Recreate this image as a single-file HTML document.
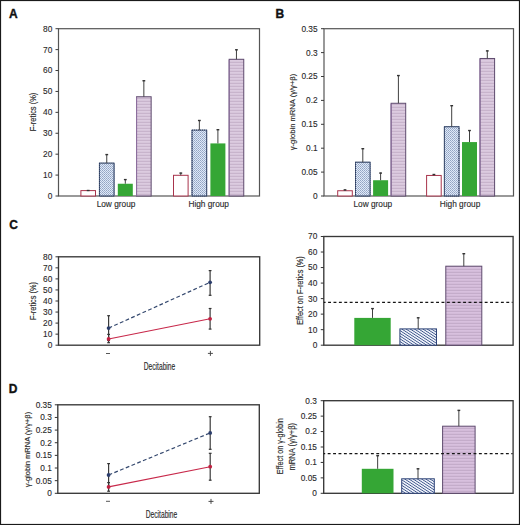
<!DOCTYPE html><html><head><meta charset="utf-8"><style>html,body{margin:0;padding:0;background:#fff;}svg{display:block;}</style></head><body>
<svg width="520" height="525" viewBox="0 0 520 525" font-family='"Liberation Sans", sans-serif'>
<defs>
<pattern id="hb" width="2" height="2" patternUnits="userSpaceOnUse">
<rect width="2" height="2" fill="#dfe9f8"/><rect width="1" height="1" fill="#93a4c2"/><rect x="1" y="1" width="1" height="1" fill="#a4b4d0"/></pattern>
<pattern id="hb2" width="2.3" height="2.3" patternUnits="userSpaceOnUse" patternTransform="rotate(-57)">
<rect width="2.3" height="2.3" fill="#f2f6fd"/><rect width="0.8" height="2.3" fill="#3a5288"/></pattern>
<pattern id="hp" width="4" height="3" patternUnits="userSpaceOnUse">
<rect width="4" height="3" fill="#dccbe0"/><rect y="1.8" width="4" height="1.1" fill="#c6b2ca"/></pattern>
<pattern id="hp2" width="4" height="3" patternUnits="userSpaceOnUse">
<rect width="4" height="3" fill="#d8c0de"/><rect y="1.8" width="4" height="1.1" fill="#c2aac8"/></pattern>
</defs>
<rect x="0" y="0" width="520" height="525" fill="#fff"/>
<text x="9" y="18" font-size="12" font-weight="bold" fill="#111" stroke="#111" stroke-width="0.35">A</text>
<text x="275.6" y="17.8" font-size="12" font-weight="bold" fill="#111" stroke="#111" stroke-width="0.35">B</text>
<text x="9.2" y="228.8" font-size="12" font-weight="bold" fill="#111" stroke="#111" stroke-width="0.35">C</text>
<text x="8.8" y="392.8" font-size="12" font-weight="bold" fill="#111" stroke="#111" stroke-width="0.35">D</text>
<rect x="58.5" y="28.7" width="201.0" height="167.3" fill="none" stroke="#555" stroke-width="1.2"/>
<line x1="55.5" y1="196.00" x2="58.5" y2="196.00" stroke="#3a3a3a" stroke-width="1"/>
<text x="52.3" y="198.90" font-size="8.3" text-anchor="end" fill="#2a2a2a" stroke="#2a2a2a" stroke-width="0.12">0</text>
<line x1="55.5" y1="175.09" x2="58.5" y2="175.09" stroke="#3a3a3a" stroke-width="1"/>
<text x="52.3" y="177.99" font-size="8.3" text-anchor="end" fill="#2a2a2a" stroke="#2a2a2a" stroke-width="0.12">10</text>
<line x1="55.5" y1="154.18" x2="58.5" y2="154.18" stroke="#3a3a3a" stroke-width="1"/>
<text x="52.3" y="157.08" font-size="8.3" text-anchor="end" fill="#2a2a2a" stroke="#2a2a2a" stroke-width="0.12">20</text>
<line x1="55.5" y1="133.26" x2="58.5" y2="133.26" stroke="#3a3a3a" stroke-width="1"/>
<text x="52.3" y="136.16" font-size="8.3" text-anchor="end" fill="#2a2a2a" stroke="#2a2a2a" stroke-width="0.12">30</text>
<line x1="55.5" y1="112.35" x2="58.5" y2="112.35" stroke="#3a3a3a" stroke-width="1"/>
<text x="52.3" y="115.25" font-size="8.3" text-anchor="end" fill="#2a2a2a" stroke="#2a2a2a" stroke-width="0.12">40</text>
<line x1="55.5" y1="91.44" x2="58.5" y2="91.44" stroke="#3a3a3a" stroke-width="1"/>
<text x="52.3" y="94.34" font-size="8.3" text-anchor="end" fill="#2a2a2a" stroke="#2a2a2a" stroke-width="0.12">50</text>
<line x1="55.5" y1="70.52" x2="58.5" y2="70.52" stroke="#3a3a3a" stroke-width="1"/>
<text x="52.3" y="73.42" font-size="8.3" text-anchor="end" fill="#2a2a2a" stroke="#2a2a2a" stroke-width="0.12">60</text>
<line x1="55.5" y1="49.61" x2="58.5" y2="49.61" stroke="#3a3a3a" stroke-width="1"/>
<text x="52.3" y="52.51" font-size="8.3" text-anchor="end" fill="#2a2a2a" stroke="#2a2a2a" stroke-width="0.12">70</text>
<line x1="55.5" y1="28.70" x2="58.5" y2="28.70" stroke="#3a3a3a" stroke-width="1"/>
<text x="52.3" y="31.60" font-size="8.3" text-anchor="end" fill="#2a2a2a" stroke="#2a2a2a" stroke-width="0.12">80</text>
<rect x="80.90" y="190.60" width="14.60" height="5.40" fill="#fff" stroke="#a8344c" stroke-width="1"/>
<line x1="88.20" y1="190.00" x2="88.20" y2="190.60" stroke="#404040" stroke-width="1"/>
<line x1="86.80" y1="190.50" x2="89.60" y2="190.50" stroke="#333" stroke-width="1.4"/>
<rect x="98.95" y="163.10" width="15.60" height="32.90" fill="url(#hb)"/>
<rect x="99.45" y="163.10" width="14.60" height="32.90" fill="none" stroke="#50607e" stroke-width="1"/>
<rect x="99.45" y="163.10" width="14.60" height="32.90" fill="none" stroke="#2a3a5e" stroke-width="1" stroke-dasharray="1,1"/>
<line x1="106.75" y1="154.09" x2="106.75" y2="163.10" stroke="#404040" stroke-width="1"/>
<line x1="105.35" y1="154.59" x2="108.15" y2="154.59" stroke="#333" stroke-width="1.4"/>
<rect x="117.80" y="183.75" width="15.00" height="12.25" fill="#35a635"/>
<line x1="125.30" y1="179.10" x2="125.30" y2="183.75" stroke="#404040" stroke-width="1"/>
<line x1="123.90" y1="179.60" x2="126.70" y2="179.60" stroke="#333" stroke-width="1.4"/>
<rect x="136.55" y="96.75" width="14.60" height="99.25" fill="url(#hp)" stroke="#5e4a6e" stroke-width="1"/>
<line x1="136.55" y1="97.25" x2="136.55" y2="196.00" stroke="#8e70a0" stroke-width="1"/>
<line x1="143.85" y1="80.25" x2="143.85" y2="96.75" stroke="#404040" stroke-width="1"/>
<line x1="142.45" y1="80.75" x2="145.25" y2="80.75" stroke="#333" stroke-width="1.4"/>
<rect x="173.50" y="175.30" width="14.60" height="20.70" fill="#fff" stroke="#a8344c" stroke-width="1"/>
<line x1="180.80" y1="172.60" x2="180.80" y2="175.30" stroke="#404040" stroke-width="1"/>
<line x1="179.40" y1="173.10" x2="182.20" y2="173.10" stroke="#333" stroke-width="1.4"/>
<rect x="191.55" y="130.10" width="15.60" height="65.90" fill="url(#hb)"/>
<rect x="192.05" y="130.10" width="14.60" height="65.90" fill="none" stroke="#50607e" stroke-width="1"/>
<rect x="192.05" y="130.10" width="14.60" height="65.90" fill="none" stroke="#2a3a5e" stroke-width="1" stroke-dasharray="1,1"/>
<line x1="199.35" y1="120.00" x2="199.35" y2="130.10" stroke="#404040" stroke-width="1"/>
<line x1="197.95" y1="120.50" x2="200.75" y2="120.50" stroke="#333" stroke-width="1.4"/>
<rect x="210.40" y="143.41" width="15.00" height="52.59" fill="#35a635"/>
<line x1="217.90" y1="129.21" x2="217.90" y2="143.41" stroke="#404040" stroke-width="1"/>
<line x1="216.50" y1="129.71" x2="219.30" y2="129.71" stroke="#333" stroke-width="1.4"/>
<rect x="229.15" y="59.29" width="14.60" height="136.71" fill="url(#hp)" stroke="#5e4a6e" stroke-width="1"/>
<line x1="229.15" y1="59.79" x2="229.15" y2="196.00" stroke="#8e70a0" stroke-width="1"/>
<line x1="236.45" y1="49.30" x2="236.45" y2="59.29" stroke="#404040" stroke-width="1"/>
<line x1="235.05" y1="49.80" x2="237.85" y2="49.80" stroke="#333" stroke-width="1.4"/>
<text x="116" y="207.1" font-size="8.3" text-anchor="middle" fill="#2a2a2a" stroke="#2a2a2a" stroke-width="0.12" font-weight="normal">Low group</text>
<text x="208.7" y="207.1" font-size="8.3" text-anchor="middle" fill="#2a2a2a" stroke="#2a2a2a" stroke-width="0.12" font-weight="normal">High group</text>
<text transform="translate(35.9,112.0) rotate(-90)" x="0" y="0" font-size="9.2" text-anchor="middle" textLength="38.6" lengthAdjust="spacingAndGlyphs" fill="#2a2a2a" stroke="#2a2a2a" stroke-width="0.15" font-weight="normal">F-retics (%)</text>
<rect x="324.0" y="28.7" width="189.5" height="167.3" fill="none" stroke="#555" stroke-width="1.2"/>
<line x1="321.0" y1="196.00" x2="324.0" y2="196.00" stroke="#3a3a3a" stroke-width="1"/>
<text x="317.6" y="198.90" font-size="8.3" text-anchor="end" fill="#2a2a2a" stroke="#2a2a2a" stroke-width="0.12">0</text>
<line x1="321.0" y1="172.10" x2="324.0" y2="172.10" stroke="#3a3a3a" stroke-width="1"/>
<text x="317.6" y="175.00" font-size="8.3" text-anchor="end" fill="#2a2a2a" stroke="#2a2a2a" stroke-width="0.12">0.05</text>
<line x1="321.0" y1="148.20" x2="324.0" y2="148.20" stroke="#3a3a3a" stroke-width="1"/>
<text x="317.6" y="151.10" font-size="8.3" text-anchor="end" fill="#2a2a2a" stroke="#2a2a2a" stroke-width="0.12">0.1</text>
<line x1="321.0" y1="124.30" x2="324.0" y2="124.30" stroke="#3a3a3a" stroke-width="1"/>
<text x="317.6" y="127.20" font-size="8.3" text-anchor="end" fill="#2a2a2a" stroke="#2a2a2a" stroke-width="0.12">0.15</text>
<line x1="321.0" y1="100.40" x2="324.0" y2="100.40" stroke="#3a3a3a" stroke-width="1"/>
<text x="317.6" y="103.30" font-size="8.3" text-anchor="end" fill="#2a2a2a" stroke="#2a2a2a" stroke-width="0.12">0.2</text>
<line x1="321.0" y1="76.50" x2="324.0" y2="76.50" stroke="#3a3a3a" stroke-width="1"/>
<text x="317.6" y="79.40" font-size="8.3" text-anchor="end" fill="#2a2a2a" stroke="#2a2a2a" stroke-width="0.12">0.25</text>
<line x1="321.0" y1="52.60" x2="324.0" y2="52.60" stroke="#3a3a3a" stroke-width="1"/>
<text x="317.6" y="55.50" font-size="8.3" text-anchor="end" fill="#2a2a2a" stroke="#2a2a2a" stroke-width="0.12">0.3</text>
<line x1="321.0" y1="28.70" x2="324.0" y2="28.70" stroke="#3a3a3a" stroke-width="1"/>
<text x="317.6" y="31.60" font-size="8.3" text-anchor="end" fill="#2a2a2a" stroke="#2a2a2a" stroke-width="0.12">0.35</text>
<rect x="337.70" y="190.74" width="14.60" height="5.26" fill="#fff" stroke="#a8344c" stroke-width="1"/>
<line x1="345.00" y1="189.40" x2="345.00" y2="190.74" stroke="#404040" stroke-width="1"/>
<line x1="343.60" y1="189.90" x2="346.40" y2="189.90" stroke="#333" stroke-width="1.4"/>
<rect x="355.00" y="162.21" width="15.60" height="33.79" fill="url(#hb)"/>
<rect x="355.50" y="162.21" width="14.60" height="33.79" fill="none" stroke="#50607e" stroke-width="1"/>
<rect x="355.50" y="162.21" width="14.60" height="33.79" fill="none" stroke="#2a3a5e" stroke-width="1" stroke-dasharray="1,1"/>
<line x1="362.80" y1="148.20" x2="362.80" y2="162.21" stroke="#404040" stroke-width="1"/>
<line x1="361.40" y1="148.70" x2="364.20" y2="148.70" stroke="#333" stroke-width="1.4"/>
<rect x="373.10" y="180.23" width="15.00" height="15.77" fill="#35a635"/>
<line x1="380.60" y1="172.58" x2="380.60" y2="180.23" stroke="#404040" stroke-width="1"/>
<line x1="379.20" y1="173.08" x2="382.00" y2="173.08" stroke="#333" stroke-width="1.4"/>
<rect x="391.10" y="103.27" width="14.60" height="92.73" fill="url(#hp)" stroke="#5e4a6e" stroke-width="1"/>
<line x1="391.10" y1="103.77" x2="391.10" y2="196.00" stroke="#8e70a0" stroke-width="1"/>
<line x1="398.40" y1="75.07" x2="398.40" y2="103.27" stroke="#404040" stroke-width="1"/>
<line x1="397.00" y1="75.57" x2="399.80" y2="75.57" stroke="#333" stroke-width="1.4"/>
<rect x="426.60" y="175.45" width="14.60" height="20.55" fill="#fff" stroke="#a8344c" stroke-width="1"/>
<line x1="433.90" y1="174.01" x2="433.90" y2="175.45" stroke="#404040" stroke-width="1"/>
<line x1="432.50" y1="174.51" x2="435.30" y2="174.51" stroke="#333" stroke-width="1.4"/>
<rect x="443.90" y="126.69" width="15.60" height="69.31" fill="url(#hb)"/>
<rect x="444.40" y="126.69" width="14.60" height="69.31" fill="none" stroke="#50607e" stroke-width="1"/>
<rect x="444.40" y="126.69" width="14.60" height="69.31" fill="none" stroke="#2a3a5e" stroke-width="1" stroke-dasharray="1,1"/>
<line x1="451.70" y1="105.18" x2="451.70" y2="126.69" stroke="#404040" stroke-width="1"/>
<line x1="450.30" y1="105.68" x2="453.10" y2="105.68" stroke="#333" stroke-width="1.4"/>
<rect x="462.00" y="142.08" width="15.00" height="53.92" fill="#35a635"/>
<line x1="469.50" y1="130.04" x2="469.50" y2="142.08" stroke="#404040" stroke-width="1"/>
<line x1="468.10" y1="130.54" x2="470.90" y2="130.54" stroke="#333" stroke-width="1.4"/>
<rect x="480.00" y="58.48" width="14.60" height="137.52" fill="url(#hp)" stroke="#5e4a6e" stroke-width="1"/>
<line x1="480.00" y1="58.98" x2="480.00" y2="196.00" stroke="#8e70a0" stroke-width="1"/>
<line x1="487.30" y1="50.40" x2="487.30" y2="58.48" stroke="#404040" stroke-width="1"/>
<line x1="485.90" y1="50.90" x2="488.70" y2="50.90" stroke="#333" stroke-width="1.4"/>
<text x="372.8" y="207.1" font-size="8.3" text-anchor="middle" fill="#2a2a2a" stroke="#2a2a2a" stroke-width="0.12" font-weight="normal">Low group</text>
<text x="460.0" y="207.1" font-size="8.3" text-anchor="middle" fill="#2a2a2a" stroke="#2a2a2a" stroke-width="0.12" font-weight="normal">High group</text>
<text transform="translate(294.8,112) rotate(-90)" x="0" y="0" font-size="7.8" text-anchor="middle" textLength="76.5" lengthAdjust="spacingAndGlyphs" fill="#2a2a2a" stroke="#2a2a2a" stroke-width="0.15" font-weight="normal">γ-globin mRNA (γ/γ+β)</text>
<rect x="58.5" y="256.8" width="201.2" height="88.39999999999998" fill="none" stroke="#383838" stroke-width="1.35"/>
<line x1="55.5" y1="345.20" x2="58.5" y2="345.20" stroke="#333" stroke-width="1"/>
<text x="52.3" y="348.10" font-size="8.3" text-anchor="end" fill="#2a2a2a" stroke="#2a2a2a" stroke-width="0.12">0</text>
<line x1="55.5" y1="334.15" x2="58.5" y2="334.15" stroke="#333" stroke-width="1"/>
<text x="52.3" y="337.05" font-size="8.3" text-anchor="end" fill="#2a2a2a" stroke="#2a2a2a" stroke-width="0.12">10</text>
<line x1="55.5" y1="323.10" x2="58.5" y2="323.10" stroke="#333" stroke-width="1"/>
<text x="52.3" y="326.00" font-size="8.3" text-anchor="end" fill="#2a2a2a" stroke="#2a2a2a" stroke-width="0.12">20</text>
<line x1="55.5" y1="312.05" x2="58.5" y2="312.05" stroke="#333" stroke-width="1"/>
<text x="52.3" y="314.95" font-size="8.3" text-anchor="end" fill="#2a2a2a" stroke="#2a2a2a" stroke-width="0.12">30</text>
<line x1="55.5" y1="301.00" x2="58.5" y2="301.00" stroke="#333" stroke-width="1"/>
<text x="52.3" y="303.90" font-size="8.3" text-anchor="end" fill="#2a2a2a" stroke="#2a2a2a" stroke-width="0.12">40</text>
<line x1="55.5" y1="289.95" x2="58.5" y2="289.95" stroke="#333" stroke-width="1"/>
<text x="52.3" y="292.85" font-size="8.3" text-anchor="end" fill="#2a2a2a" stroke="#2a2a2a" stroke-width="0.12">50</text>
<line x1="55.5" y1="278.90" x2="58.5" y2="278.90" stroke="#333" stroke-width="1"/>
<text x="52.3" y="281.80" font-size="8.3" text-anchor="end" fill="#2a2a2a" stroke="#2a2a2a" stroke-width="0.12">60</text>
<line x1="55.5" y1="267.85" x2="58.5" y2="267.85" stroke="#333" stroke-width="1"/>
<text x="52.3" y="270.75" font-size="8.3" text-anchor="end" fill="#2a2a2a" stroke="#2a2a2a" stroke-width="0.12">70</text>
<line x1="55.5" y1="256.80" x2="58.5" y2="256.80" stroke="#333" stroke-width="1"/>
<text x="52.3" y="259.70" font-size="8.3" text-anchor="end" fill="#2a2a2a" stroke="#2a2a2a" stroke-width="0.12">80</text>
<line x1="108.6" y1="315.7" x2="108.6" y2="340.5" stroke="#3a3a3a" stroke-width="1.2"/>
<line x1="107.19999999999999" y1="315.7" x2="110.0" y2="315.7" stroke="#333" stroke-width="1.2"/>
<line x1="107.19999999999999" y1="340.5" x2="110.0" y2="340.5" stroke="#333" stroke-width="1.2"/>
<line x1="210.1" y1="270.6" x2="210.1" y2="295.3" stroke="#3a3a3a" stroke-width="1.2"/>
<line x1="208.7" y1="270.6" x2="211.5" y2="270.6" stroke="#333" stroke-width="1.2"/>
<line x1="208.7" y1="295.3" x2="211.5" y2="295.3" stroke="#333" stroke-width="1.2"/>
<line x1="108.6" y1="334.4" x2="108.6" y2="342.7" stroke="#3a3a3a" stroke-width="1.2"/>
<line x1="107.19999999999999" y1="334.4" x2="110.0" y2="334.4" stroke="#333" stroke-width="1.2"/>
<line x1="107.19999999999999" y1="342.7" x2="110.0" y2="342.7" stroke="#333" stroke-width="1.2"/>
<line x1="210.1" y1="308.5" x2="210.1" y2="329.1" stroke="#3a3a3a" stroke-width="1.2"/>
<line x1="208.7" y1="308.5" x2="211.5" y2="308.5" stroke="#333" stroke-width="1.2"/>
<line x1="208.7" y1="329.1" x2="211.5" y2="329.1" stroke="#333" stroke-width="1.2"/>
<line x1="108.6" y1="328.1" x2="210.1" y2="282.3" stroke="#34486e" stroke-width="1.2" stroke-dasharray="3.8,2.4"/>
<line x1="108.6" y1="339.0" x2="210.1" y2="318.8" stroke="#c8284a" stroke-width="1.1"/>
<circle cx="108.6" cy="328.1" r="1.9" fill="#2c3e6c"/>
<circle cx="210.1" cy="282.3" r="1.9" fill="#2c3e6c"/>
<circle cx="108.6" cy="339.0" r="1.9" fill="#c02040"/>
<circle cx="210.1" cy="318.8" r="1.9" fill="#c02040"/>
<text transform="translate(36.4,301.1) rotate(-90)" x="0" y="0" font-size="9.0" text-anchor="middle" textLength="38" lengthAdjust="spacingAndGlyphs" fill="#2a2a2a" stroke="#2a2a2a" stroke-width="0.15" font-weight="normal">F-retics (%)</text>
<line x1="106.0" y1="353.5" x2="110.0" y2="353.5" stroke="#444" stroke-width="0.9"/>
<line x1="207.9" y1="353.4" x2="212.9" y2="353.4" stroke="#444" stroke-width="0.95"/>
<line x1="210.4" y1="350.9" x2="210.4" y2="355.9" stroke="#444" stroke-width="0.95"/>
<text x="159.5" y="369.8" font-size="10.2" text-anchor="middle" textLength="31.5" lengthAdjust="spacingAndGlyphs" fill="#2a2a2a" stroke="#2a2a2a" stroke-width="0.15" font-weight="normal">Decitabine</text>
<rect x="57.8" y="404.8" width="201.5" height="88.5" fill="none" stroke="#383838" stroke-width="1.35"/>
<line x1="54.8" y1="493.30" x2="57.8" y2="493.30" stroke="#333" stroke-width="1"/>
<text x="51.8" y="496.20" font-size="8.3" text-anchor="end" fill="#2a2a2a" stroke="#2a2a2a" stroke-width="0.12">0</text>
<line x1="54.8" y1="480.66" x2="57.8" y2="480.66" stroke="#333" stroke-width="1"/>
<text x="51.8" y="483.56" font-size="8.3" text-anchor="end" fill="#2a2a2a" stroke="#2a2a2a" stroke-width="0.12">0.05</text>
<line x1="54.8" y1="468.01" x2="57.8" y2="468.01" stroke="#333" stroke-width="1"/>
<text x="51.8" y="470.91" font-size="8.3" text-anchor="end" fill="#2a2a2a" stroke="#2a2a2a" stroke-width="0.12">0.1</text>
<line x1="54.8" y1="455.37" x2="57.8" y2="455.37" stroke="#333" stroke-width="1"/>
<text x="51.8" y="458.27" font-size="8.3" text-anchor="end" fill="#2a2a2a" stroke="#2a2a2a" stroke-width="0.12">0.15</text>
<line x1="54.8" y1="442.73" x2="57.8" y2="442.73" stroke="#333" stroke-width="1"/>
<text x="51.8" y="445.63" font-size="8.3" text-anchor="end" fill="#2a2a2a" stroke="#2a2a2a" stroke-width="0.12">0.2</text>
<line x1="54.8" y1="430.09" x2="57.8" y2="430.09" stroke="#333" stroke-width="1"/>
<text x="51.8" y="432.99" font-size="8.3" text-anchor="end" fill="#2a2a2a" stroke="#2a2a2a" stroke-width="0.12">0.25</text>
<line x1="54.8" y1="417.44" x2="57.8" y2="417.44" stroke="#333" stroke-width="1"/>
<text x="51.8" y="420.34" font-size="8.3" text-anchor="end" fill="#2a2a2a" stroke="#2a2a2a" stroke-width="0.12">0.3</text>
<line x1="54.8" y1="404.80" x2="57.8" y2="404.80" stroke="#333" stroke-width="1"/>
<text x="51.8" y="407.70" font-size="8.3" text-anchor="end" fill="#2a2a2a" stroke="#2a2a2a" stroke-width="0.12">0.35</text>
<line x1="108.6" y1="463.6" x2="108.6" y2="486.4" stroke="#3a3a3a" stroke-width="1.2"/>
<line x1="107.19999999999999" y1="463.6" x2="110.0" y2="463.6" stroke="#333" stroke-width="1.2"/>
<line x1="107.19999999999999" y1="486.4" x2="110.0" y2="486.4" stroke="#333" stroke-width="1.2"/>
<line x1="210.2" y1="416.7" x2="210.2" y2="449.3" stroke="#3a3a3a" stroke-width="1.2"/>
<line x1="208.79999999999998" y1="416.7" x2="211.6" y2="416.7" stroke="#333" stroke-width="1.2"/>
<line x1="208.79999999999998" y1="449.3" x2="211.6" y2="449.3" stroke="#333" stroke-width="1.2"/>
<line x1="108.6" y1="482.6" x2="108.6" y2="491.2" stroke="#3a3a3a" stroke-width="1.2"/>
<line x1="107.19999999999999" y1="482.6" x2="110.0" y2="482.6" stroke="#333" stroke-width="1.2"/>
<line x1="107.19999999999999" y1="491.2" x2="110.0" y2="491.2" stroke="#333" stroke-width="1.2"/>
<line x1="210.2" y1="453.3" x2="210.2" y2="480.2" stroke="#3a3a3a" stroke-width="1.2"/>
<line x1="208.79999999999998" y1="453.3" x2="211.6" y2="453.3" stroke="#333" stroke-width="1.2"/>
<line x1="208.79999999999998" y1="480.2" x2="211.6" y2="480.2" stroke="#333" stroke-width="1.2"/>
<line x1="108.6" y1="475.0" x2="210.2" y2="432.9" stroke="#34486e" stroke-width="1.2" stroke-dasharray="3.8,2.4"/>
<line x1="108.6" y1="486.9" x2="210.2" y2="466.7" stroke="#c8284a" stroke-width="1.1"/>
<circle cx="108.6" cy="475.0" r="1.9" fill="#2c3e6c"/>
<circle cx="210.2" cy="432.9" r="1.9" fill="#2c3e6c"/>
<circle cx="108.6" cy="486.9" r="1.9" fill="#c02040"/>
<circle cx="210.2" cy="466.7" r="1.9" fill="#c02040"/>
<text transform="translate(29.7,449.6) rotate(-90)" x="0" y="0" font-size="7.8" text-anchor="middle" textLength="75.5" lengthAdjust="spacingAndGlyphs" fill="#2a2a2a" stroke="#2a2a2a" stroke-width="0.15" font-weight="normal">γ-globin mRNA (γ/γ+β)</text>
<line x1="106.0" y1="501.3" x2="110.0" y2="501.3" stroke="#444" stroke-width="0.9"/>
<line x1="208.5" y1="501.4" x2="213.5" y2="501.4" stroke="#444" stroke-width="0.95"/>
<line x1="211.0" y1="498.9" x2="211.0" y2="503.9" stroke="#444" stroke-width="0.95"/>
<text x="161.5" y="517.9" font-size="10.2" text-anchor="middle" textLength="31.5" lengthAdjust="spacingAndGlyphs" fill="#2a2a2a" stroke="#2a2a2a" stroke-width="0.15" font-weight="normal">Decitabine</text>
<rect x="323.8" y="236.5" width="189.3" height="108.69999999999999" fill="none" stroke="#383838" stroke-width="1.35"/>
<line x1="320.8" y1="345.20" x2="323.8" y2="345.20" stroke="#333" stroke-width="1"/>
<text x="317.3" y="348.10" font-size="8.3" text-anchor="end" fill="#2a2a2a" stroke="#2a2a2a" stroke-width="0.12">0</text>
<line x1="320.8" y1="329.67" x2="323.8" y2="329.67" stroke="#333" stroke-width="1"/>
<text x="317.3" y="332.57" font-size="8.3" text-anchor="end" fill="#2a2a2a" stroke="#2a2a2a" stroke-width="0.12">10</text>
<line x1="320.8" y1="314.14" x2="323.8" y2="314.14" stroke="#333" stroke-width="1"/>
<text x="317.3" y="317.04" font-size="8.3" text-anchor="end" fill="#2a2a2a" stroke="#2a2a2a" stroke-width="0.12">20</text>
<line x1="320.8" y1="298.61" x2="323.8" y2="298.61" stroke="#333" stroke-width="1"/>
<text x="317.3" y="301.51" font-size="8.3" text-anchor="end" fill="#2a2a2a" stroke="#2a2a2a" stroke-width="0.12">30</text>
<line x1="320.8" y1="283.09" x2="323.8" y2="283.09" stroke="#333" stroke-width="1"/>
<text x="317.3" y="285.99" font-size="8.3" text-anchor="end" fill="#2a2a2a" stroke="#2a2a2a" stroke-width="0.12">40</text>
<line x1="320.8" y1="267.56" x2="323.8" y2="267.56" stroke="#333" stroke-width="1"/>
<text x="317.3" y="270.46" font-size="8.3" text-anchor="end" fill="#2a2a2a" stroke="#2a2a2a" stroke-width="0.12">50</text>
<line x1="320.8" y1="252.03" x2="323.8" y2="252.03" stroke="#333" stroke-width="1"/>
<text x="317.3" y="254.93" font-size="8.3" text-anchor="end" fill="#2a2a2a" stroke="#2a2a2a" stroke-width="0.12">60</text>
<line x1="320.8" y1="236.50" x2="323.8" y2="236.50" stroke="#333" stroke-width="1"/>
<text x="317.3" y="239.40" font-size="8.3" text-anchor="end" fill="#2a2a2a" stroke="#2a2a2a" stroke-width="0.12">70</text>
<rect x="354.30" y="317.90" width="36.40" height="27.30" fill="#35a635"/>
<line x1="372.50" y1="308.10" x2="372.50" y2="317.90" stroke="#404040" stroke-width="1"/>
<line x1="371.10" y1="308.60" x2="373.90" y2="308.60" stroke="#333" stroke-width="1.4"/>
<rect x="399.90" y="328.90" width="36.60" height="16.30" fill="url(#hb2)" stroke="#2f4478" stroke-width="1"/>
<line x1="418.20" y1="317.30" x2="418.20" y2="328.90" stroke="#404040" stroke-width="1"/>
<line x1="416.80" y1="317.80" x2="419.60" y2="317.80" stroke="#333" stroke-width="1.4"/>
<rect x="445.80" y="266.20" width="36.00" height="79.00" fill="url(#hp2)" stroke="#5e4a6e" stroke-width="1"/>
<line x1="463.80" y1="253.20" x2="463.80" y2="266.20" stroke="#404040" stroke-width="1"/>
<line x1="462.40" y1="253.70" x2="465.20" y2="253.70" stroke="#333" stroke-width="1.4"/>
<line x1="323.8" y1="302.4" x2="512.6" y2="302.4" stroke="#151515" stroke-width="1.25" stroke-dasharray="2.9,2.5" stroke-dashoffset="1.10"/>
<text transform="translate(303.0,290.5) rotate(-90)" x="0" y="0" font-size="9.8" text-anchor="middle" textLength="68.5" lengthAdjust="spacingAndGlyphs" fill="#2a2a2a" stroke="#2a2a2a" stroke-width="0.15" font-weight="normal">Effect on F-retics (%)</text>
<rect x="323.7" y="400.7" width="189.40000000000003" height="92.60000000000002" fill="none" stroke="#383838" stroke-width="1.35"/>
<line x1="320.7" y1="493.30" x2="323.7" y2="493.30" stroke="#333" stroke-width="1"/>
<text x="316.9" y="496.20" font-size="8.3" text-anchor="end" fill="#2a2a2a" stroke="#2a2a2a" stroke-width="0.12">0</text>
<line x1="320.7" y1="477.87" x2="323.7" y2="477.87" stroke="#333" stroke-width="1"/>
<text x="316.9" y="480.77" font-size="8.3" text-anchor="end" fill="#2a2a2a" stroke="#2a2a2a" stroke-width="0.12">0.05</text>
<line x1="320.7" y1="462.43" x2="323.7" y2="462.43" stroke="#333" stroke-width="1"/>
<text x="316.9" y="465.33" font-size="8.3" text-anchor="end" fill="#2a2a2a" stroke="#2a2a2a" stroke-width="0.12">0.1</text>
<line x1="320.7" y1="447.00" x2="323.7" y2="447.00" stroke="#333" stroke-width="1"/>
<text x="316.9" y="449.90" font-size="8.3" text-anchor="end" fill="#2a2a2a" stroke="#2a2a2a" stroke-width="0.12">0.15</text>
<line x1="320.7" y1="431.57" x2="323.7" y2="431.57" stroke="#333" stroke-width="1"/>
<text x="316.9" y="434.47" font-size="8.3" text-anchor="end" fill="#2a2a2a" stroke="#2a2a2a" stroke-width="0.12">0.2</text>
<line x1="320.7" y1="416.13" x2="323.7" y2="416.13" stroke="#333" stroke-width="1"/>
<text x="316.9" y="419.03" font-size="8.3" text-anchor="end" fill="#2a2a2a" stroke="#2a2a2a" stroke-width="0.12">0.25</text>
<line x1="320.7" y1="400.70" x2="323.7" y2="400.70" stroke="#333" stroke-width="1"/>
<text x="316.9" y="403.60" font-size="8.3" text-anchor="end" fill="#2a2a2a" stroke="#2a2a2a" stroke-width="0.12">0.3</text>
<rect x="361.80" y="468.80" width="31.70" height="24.50" fill="#35a635"/>
<line x1="377.65" y1="455.20" x2="377.65" y2="468.80" stroke="#404040" stroke-width="1"/>
<line x1="376.25" y1="455.70" x2="379.05" y2="455.70" stroke="#333" stroke-width="1.4"/>
<rect x="401.70" y="478.80" width="32.60" height="14.50" fill="url(#hb2)" stroke="#2f4478" stroke-width="1"/>
<line x1="418.00" y1="468.30" x2="418.00" y2="478.80" stroke="#404040" stroke-width="1"/>
<line x1="416.60" y1="468.80" x2="419.40" y2="468.80" stroke="#333" stroke-width="1.4"/>
<rect x="442.60" y="426.20" width="32.50" height="67.10" fill="url(#hp2)" stroke="#5e4a6e" stroke-width="1"/>
<line x1="458.85" y1="409.90" x2="458.85" y2="426.20" stroke="#404040" stroke-width="1"/>
<line x1="457.45" y1="410.40" x2="460.25" y2="410.40" stroke="#333" stroke-width="1.4"/>
<line x1="323.7" y1="453.5" x2="512.6" y2="453.5" stroke="#151515" stroke-width="1.25" stroke-dasharray="2.9,2.5" stroke-dashoffset="1.40"/>
<text transform="translate(282.8,446.2) rotate(-90)" x="0" y="0" font-size="8.8" text-anchor="middle" textLength="56" lengthAdjust="spacingAndGlyphs" fill="#2a2a2a" stroke="#2a2a2a" stroke-width="0.15" font-weight="normal">Effect on γ-globin</text>
<text transform="translate(295.2,446.7) rotate(-90)" x="0" y="0" font-size="8.8" text-anchor="middle" textLength="47.6" lengthAdjust="spacingAndGlyphs" fill="#2a2a2a" stroke="#2a2a2a" stroke-width="0.15" font-weight="normal">mRNA (γ/γ+β)</text>
<rect x="0.55" y="0.55" width="518.9" height="523.9" fill="none" stroke="#1a1a1a" stroke-width="1.1"/>
</svg></body></html>
